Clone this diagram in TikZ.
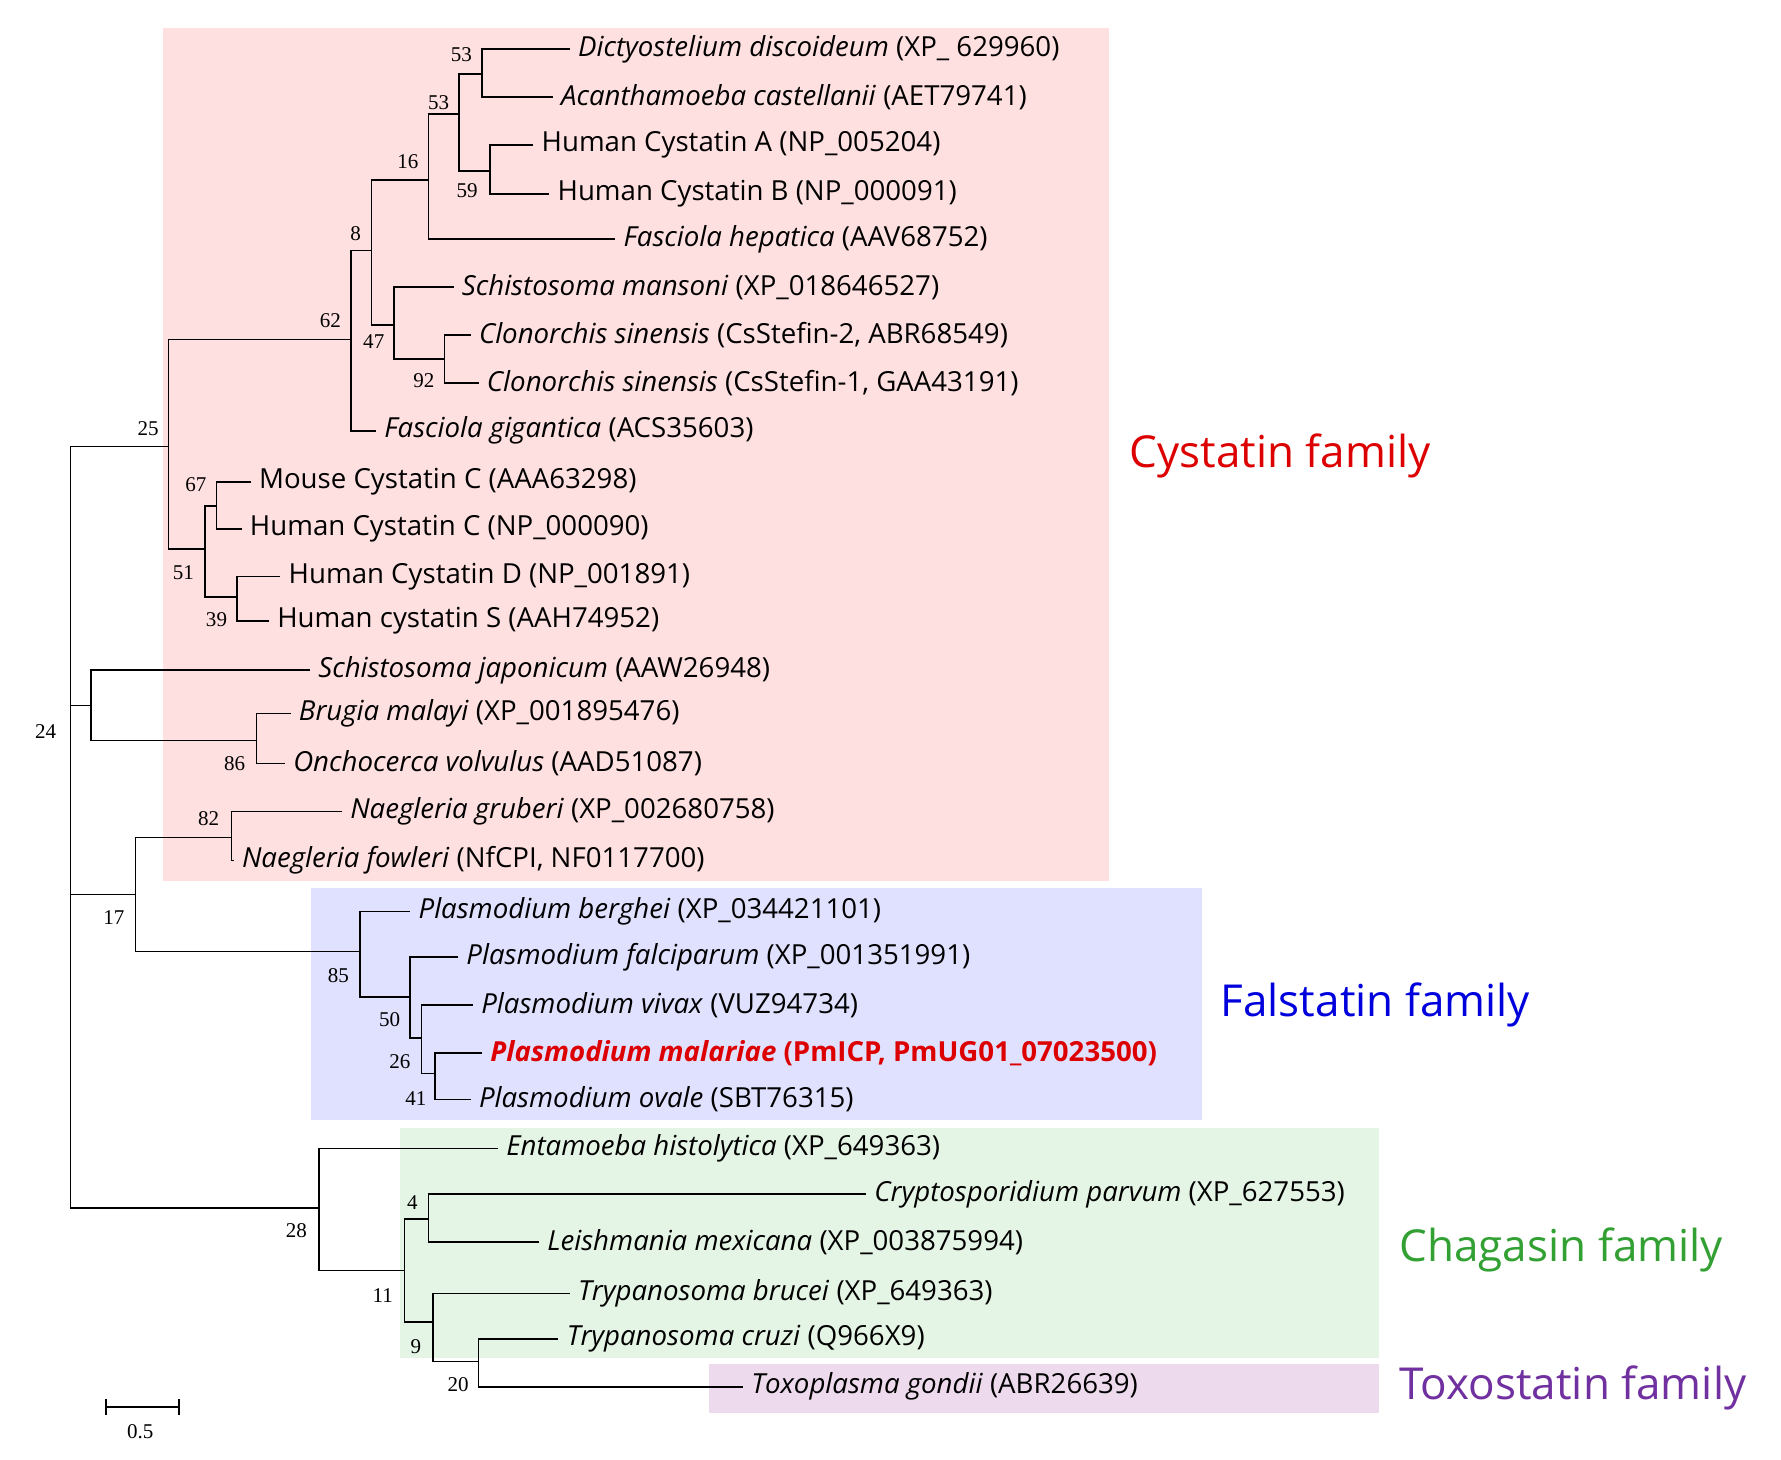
\documentclass[tikz,border=0pt]{standalone}
\usepackage{fontspec}
\setmainfont{Open Sans}
\newfontfamily\numf{Liberation Serif}
\newcommand\lf[5]{\node[leaf] (#1) at (#2,#3) {#4}; \draw[br] (#5) |- (#1.west);}
\begin{document}
\begin{tikzpicture}[x=0.02cm,y=-0.02cm,
 leaf/.style={anchor=west,inner xsep=4pt,inner ysep=0pt,font=\fontsize{13.8}{15}\selectfont},
 br/.style={line width=0.8pt},
 bs/.style={font=\numf\fontsize{10.5}{12}\selectfont,inner sep=0pt},
 fam/.style={anchor=west,font=\fontsize{22}{26}\selectfont}]
\useasboundingbox (0,0) rectangle (1563,1281);
% boxes
\fill[red!12] (143,25) rectangle (973,773);
\fill[blue!12] (273,779) rectangle (1055,983);
\fill[green!60!black!10] (351,990) rectangle (1210,1192);
\fill[violet!14] (622,1197) rectangle (1210,1240);
\node[fam,text={rgb,255:red,220;green,0;blue,0}] (fc) at (985,400) {Cystatin family};
\node[fam,text={rgb,255:red,0;green,0;blue,220}] (ff) at (1065,882) {Falstatin family};
\node[fam,text={rgb,255:red,50;green,160;blue,50}] (fg) at (1222,1097) {Chagasin family};
\node[fam,text={rgb,255:red,112;green,48;blue,160}] (ft) at (1222,1218) {Toxostatin family};
% internal nodes
\coordinate (n24) at (62,642);
\coordinate (n25) at (148,392);
\coordinate (nX) at (80,619);
\coordinate (n17) at (119,785);
\coordinate (n28) at (280,1060);
\coordinate (n62) at (308,298);
\coordinate (n51) at (180,482);
\coordinate (n8) at (326,220);
\coordinate (n16) at (376,158);
\coordinate (n47) at (346,285);
\coordinate (n53b) at (403,100);
\coordinate (n53a) at (423,65);
\coordinate (n59) at (430,150);
\coordinate (n92) at (390,315);
\coordinate (n67) at (190,444);
\coordinate (n39) at (208,524);
\coordinate (n86) at (225,650);
\coordinate (n82) at (203,735);
\coordinate (n85) at (316,835);
\coordinate (n50) at (360,875);
\coordinate (n26) at (370,911);
\coordinate (n41) at (382,942);
\coordinate (n11) at (355,1115);
\coordinate (n4) at (376,1070);
\coordinate (n9) at (380,1160);
\coordinate (n20) at (420,1195);
% internal branches
\foreach \p/\c in {n24/n25,n24/nX,n24/n17,n24/n28,n25/n62,n25/n51,n62/n8,n8/n16,n8/n47,n16/n53b,n53b/n53a,n53b/n59,n47/n92,n51/n67,n51/n39,nX/n86,n17/n82,n17/n85,n85/n50,n50/n26,n26/n41,n28/n11,n11/n4,n11/n9,n9/n20}
  \draw[br] (\p) |- (\c);
% leaves
\lf{DD}{500}{43}{\textit{Dictyostelium discoideum} (XP\_ 629960)}{n53a}
\lf{AC}{485}{85}{\textit{Acanthamoeba castellanii} (AET79741)}{n53a}
\lf{HA}{468}{127}{Human Cystatin A (NP\_005204)}{n59}
\lf{HB}{482}{170}{Human Cystatin B (NP\_000091)}{n59}
\lf{FH}{540}{210}{\textit{Fasciola hepatica} (AAV68752)}{n16}
\lf{SM}{398}{252}{\textit{Schistosoma mansoni} (XP\_018646527)}{n47}
\lf{CS2}{413}{294}{\textit{Clonorchis sinensis} (CsStefin-2, ABR68549)}{n92}
\lf{CS1}{420}{336}{\textit{Clonorchis sinensis} (CsStefin-1, GAA43191)}{n92}
\lf{FG}{330}{378}{\textit{Fasciola gigantica} (ACS35603)}{n62}
\lf{MC}{220}{423}{Mouse Cystatin C (AAA63298)}{n67}
\lf{HC}{212}{464}{Human Cystatin C (NP\_000090)}{n67}
\lf{HD}{246}{506}{Human Cystatin D (NP\_001891)}{n39}
\lf{HS}{236}{545}{Human cystatin S (AAH74952)}{n39}
\lf{SJ}{272}{588}{\textit{Schistosoma japonicum} (AAW26948)}{nX}
\lf{BM}{255}{626}{\textit{Brugia malayi} (XP\_001895476)}{n86}
\lf{OV}{250}{670}{\textit{Onchocerca volvulus} (AAD51087)}{n86}
\lf{NG}{300}{712}{\textit{Naegleria gruberi} (XP\_002680758)}{n82}
\lf{NF}{205}{755}{\textit{Naegleria fowleri} (NfCPI, NF0117700)}{n82}
\lf{PB}{360}{800}{\textit{Plasmodium berghei} (XP\_034421101)}{n85}
\lf{PF}{402}{840}{\textit{Plasmodium falciparum} (XP\_001351991)}{n50}
\lf{PV}{415}{882}{\textit{Plasmodium vivax} (VUZ94734)}{n26}
\node[leaf,text={rgb,255:red,220;green,0;blue,0}] (PM) at (423,924) {\textbf{\textit{Plasmodium malariae} (PmICP, PmUG01\_07023500)}};
\draw[br] (n41) |- (PM.west);
\lf{PO}{413}{965}{\textit{Plasmodium ovale} (SBT76315)}{n41}
\lf{EH}{437}{1008}{\textit{Entamoeba histolytica} (XP\_649363)}{n28}
\lf{CP}{760}{1048}{\textit{Cryptosporidium parvum} (XP\_627553)}{n4}
\lf{LM}{473}{1090}{\textit{Leishmania mexicana} (XP\_003875994)}{n4}
\lf{TB}{500}{1135}{\textit{Trypanosoma brucei} (XP\_649363)}{n9}
\lf{TC}{490}{1175}{\textit{Trypanosoma cruzi} (Q966X9)}{n20}
\lf{TG}{652}{1217}{\textit{Toxoplasma gondii} (ABR26639)}{n20}
% support values
\foreach \v/\x/\y/\nm in {24/40/642/a,25/130/376/b,62/290/281/c,51/161/503/d,8/312/205/e,47/328/300/f,16/358/142/g,53/385/90/h,53/405/48/i,59/410/167/j,92/372/334/k,67/172/425/l,39/190/544/m,86/206/670/n,82/183/718/o,85/297/856/p,17/100/805/q,50/342/895/r,26/351/932/s,41/365/964/t,28/260/1080/u,11/336/1137/v,4/362/1055/w,9/365/1182/x,20/402/1215/y}
  \node[bs] (s\nm) at (\x,\y) {\v};
% scale bar
\coordinate (sb1) at (93,1235); \coordinate (sb2) at (157,1235);
\draw[br] (sb1) -- (sb2);
\draw[br] (93,1228) -- (93,1242) (157,1228) -- (157,1242);
\node[bs] (sbl) at (123,1256) {0.5};
\end{tikzpicture}
\end{document}
